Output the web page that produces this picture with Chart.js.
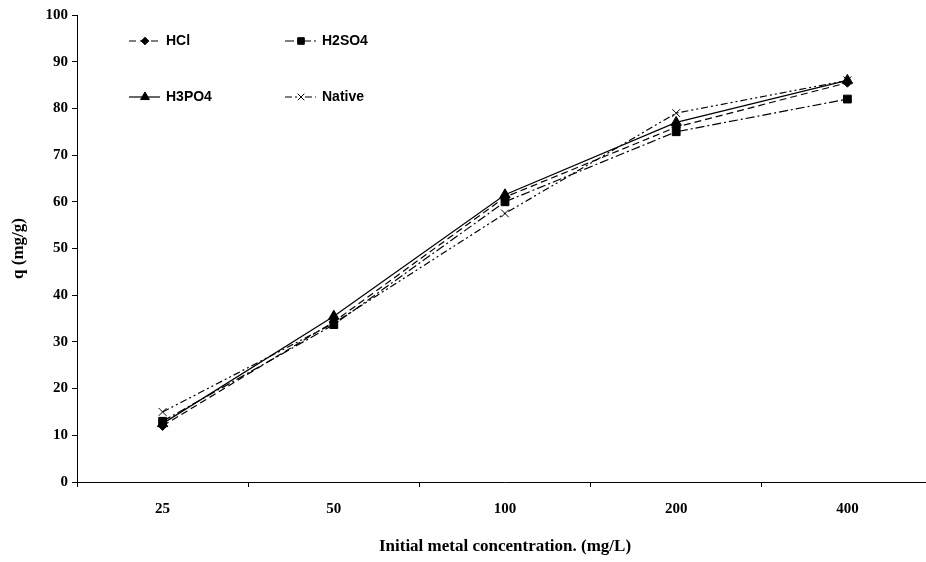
<!DOCTYPE html>
<html>
<head>
<meta charset="utf-8">
<script src="https://cdn.jsdelivr.net/npm/chart.js@4/dist/chart.umd.min.js"></script>
<style>
  html, body { margin: 0; padding: 0; background: #fff; overflow: hidden; }
  #wrap { position: relative; width: 940px; height: 562px; }
</style>
</head>
<body>
<div id="wrap"><canvas id="c"></canvas></div>
<script>
// --- data ---
const categories = ['25', '50', '100', '200', '400'];
const hclVals    = [12.0, 34.3, 61.0, 76.0, 85.5];
const h2so4Vals  = [13.0, 33.7, 60.0, 75.0, 82.0];
const h3po4Vals  = [12.5, 35.5, 61.5, 77.0, 86.0];
const nativeVals = [15.0, 34.0, 57.5, 79.0, 86.0];
const yTicks     = [0, 10, 20, 30, 40, 50, 60, 70, 80, 90, 100];

const serif = '"Liberation Serif", "Times New Roman", serif';
const tickFont = { family: serif, weight: 'bold', size: 15 };
const titleFont = { family: serif, weight: 'bold', size: 17 };

const series = [
  { label: 'HCl',    data: hclVals,    dash: [7, 4],             point: 'rectRot',  r: 4.5, lx: 129, ly: 41 },
  { label: 'H2SO4',  data: h2so4Vals,  dash: [9, 3, 2, 3],       point: 'rect',     r: 5.5, lx: 285, ly: 41 },
  { label: 'H3PO4',  data: h3po4Vals,  dash: [],                 point: 'triangle', r: 6,   lx: 129, ly: 97 },
  { label: 'Native', data: nativeVals, dash: [7, 3, 2, 3, 2, 3], point: 'crossRot', r: 5.5, lx: 285, ly: 97 }
];

// legend inside the plot, two columns like the original
const legendPlugin = {
  id: 'cornerLegend',
  afterDraw(chart) {
    const ctx = chart.ctx;
    series.forEach((s, i) => {
      const ds = chart.data.datasets[i];
      ctx.save();
      ctx.strokeStyle = '#000';
      ctx.fillStyle = '#000';
      ctx.lineWidth = 1.2;
      ctx.setLineDash(s.dash);
      ctx.beginPath();
      ctx.moveTo(s.lx, s.ly);
      ctx.lineTo(s.lx + 31, s.ly);
      ctx.stroke();
      ctx.setLineDash([]);
      ctx.lineWidth = 1;
      Chart.helpers.drawPoint(ctx, { pointStyle: s.point, radius: s.r * 0.85, borderWidth: 1 }, s.lx + 16, s.ly);
      ctx.font = 'bold 14px "Liberation Sans", Arial, sans-serif';
      ctx.textBaseline = 'middle';
      ctx.textAlign = 'left';
      ctx.fillText(ds.label, s.lx + 37, s.ly);
      ctx.restore();
    });
  }
};

new Chart(document.getElementById('c'), {
  type: 'line',
  data: {
    labels: categories,
    datasets: series.map(s => ({
      label: s.label,
      data: s.data,
      borderColor: '#000',
      backgroundColor: '#000',
      borderWidth: 1.2,
      borderDash: s.dash,
      pointStyle: s.point,
      pointRadius: s.r,
      pointBorderWidth: 1,
      pointBorderColor: '#000',
      pointBackgroundColor: '#000',
      tension: 0,
      fill: false
    }))
  },
  options: {
    responsive: true,
    maintainAspectRatio: false,
    animation: false,
    layout: { padding: { top: 15, right: 5, left: 0, bottom: 0 } },
    plugins: { legend: { display: false }, tooltip: { enabled: false } },
    scales: {
      x: {
        offset: true,
        grid: { offset: true, drawOnChartArea: false, drawTicks: true, tickLength: 5, color: '#000' },
        border: { color: '#000', width: 1 },
        ticks: { color: '#000', font: tickFont, padding: 13, maxRotation: 0 },
        title: {
          display: true, text: 'Initial metal concentration. (mg/L)', color: '#000',
          font: titleFont, padding: { top: 10, bottom: 5 }
        },
        afterFit(axis) { axis.height = 80; }
      },
      y: {
        min: 0, max: 100,
        afterBuildTicks(axis) { axis.ticks = yTicks.map(v => ({ value: v })); },
        grid: { drawOnChartArea: false, drawTicks: true, tickLength: 5, color: '#000' },
        border: { color: '#000', width: 1 },
        ticks: { color: '#000', font: tickFont, padding: 4 },
        title: {
          display: true, text: 'q (mg/g)', color: '#000',
          font: titleFont, padding: { top: 8, bottom: 10 }
        },
        afterFit(axis) { axis.width = 77; }
      }
    }
  },
  plugins: [legendPlugin]
});
</script>
</body>
</html>
